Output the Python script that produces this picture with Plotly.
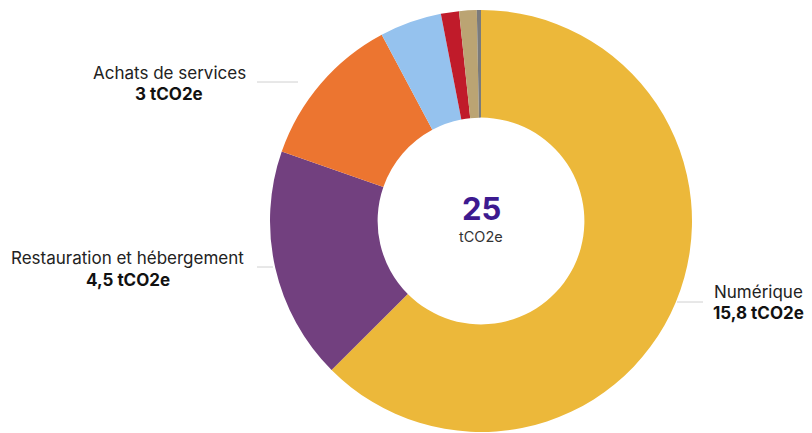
import plotly.graph_objects as go

W, H = 812, 433
OFF = 8  # page body margin shifts the figure by this many pixels
FW, FH = W - OFF, H - OFF

categories = ["Numérique", "Restauration et hébergement", "Achats de services",
              "Autre poste A", "Autre poste B", "Autre poste C", "Autre poste D"]
values = [15.8, 4.5, 3.0, 1.2, 0.35, 0.34, 0.08]
value_labels = ["15,8 tCO2e", "4,5 tCO2e", "3 tCO2e", "", "", "", ""]
colors = ["#ECB83A", "#72407F", "#EC7530", "#95C2EE", "#C01B2A", "#BBA473", "#7B7B7B"]
total_label = "25"
total_unit = "tCO2e"

# pie geometry (pixels, window coordinates)
cx, cy, r = 481, 221, 211

def px(x):
    return (x - OFF) / FW

def py(y):
    return 1 - (y - OFF) / FH

fig = go.Figure(go.Pie(
    labels=categories,
    values=values,
    marker=dict(colors=colors, line=dict(width=0)),
    hole=0.49,
    sort=False,
    direction="clockwise",
    rotation=0,
    textinfo="none",
    showlegend=False,
    domain=dict(x=[px(cx - r), px(cx + r)], y=[max(0, py(cy + r)), py(cy - r)]),
))

font = "Inter, Roboto, Arial, sans-serif"

label_pos = [
    (0, 758, 292, 313, (677, 703, 302)),
    (1, 128, 258, 280, (257, 273, 267)),
    (2, 169, 73, 94, (257, 298, 82)),
]

annotations = []
shapes = []
for i, x, y1, y2, (lx0, lx1, ly) in label_pos:
    annotations.append(dict(x=px(x), y=py(y1), xref="paper", yref="paper",
                            text=categories[i], showarrow=False,
                            font=dict(family=font, size=17, color="#222222"),
                            xanchor="center", yanchor="middle"))
    annotations.append(dict(x=px(x), y=py(y2), xref="paper", yref="paper",
                            text="<b>" + value_labels[i] + "</b>", showarrow=False,
                            font=dict(family=font, size=17, color="#111111"),
                            xanchor="center", yanchor="middle"))
    shapes.append(dict(type="line", xref="paper", yref="paper",
                       x0=px(lx0), x1=px(lx1), y0=py(ly), y1=py(ly),
                       line=dict(color="#D0D0D0", width=1), layer="below"))

annotations.append(dict(x=px(cx), y=py(208), xref="paper", yref="paper",
                        text="<b>" + total_label + "</b>", showarrow=False,
                        font=dict(family=font, size=31, color="#3D1A8F"),
                        xanchor="center", yanchor="middle"))
annotations.append(dict(x=px(cx), y=py(236), xref="paper", yref="paper",
                        text=total_unit, showarrow=False,
                        font=dict(family=font, size=14.5, color="#333333"),
                        xanchor="center", yanchor="middle"))

fig.update_layout(
    width=FW, height=FH,
    margin=dict(l=0, r=0, t=0, b=0),
    paper_bgcolor="white", plot_bgcolor="white",
    annotations=annotations, shapes=shapes,
)

fig.write_html("out.html")
